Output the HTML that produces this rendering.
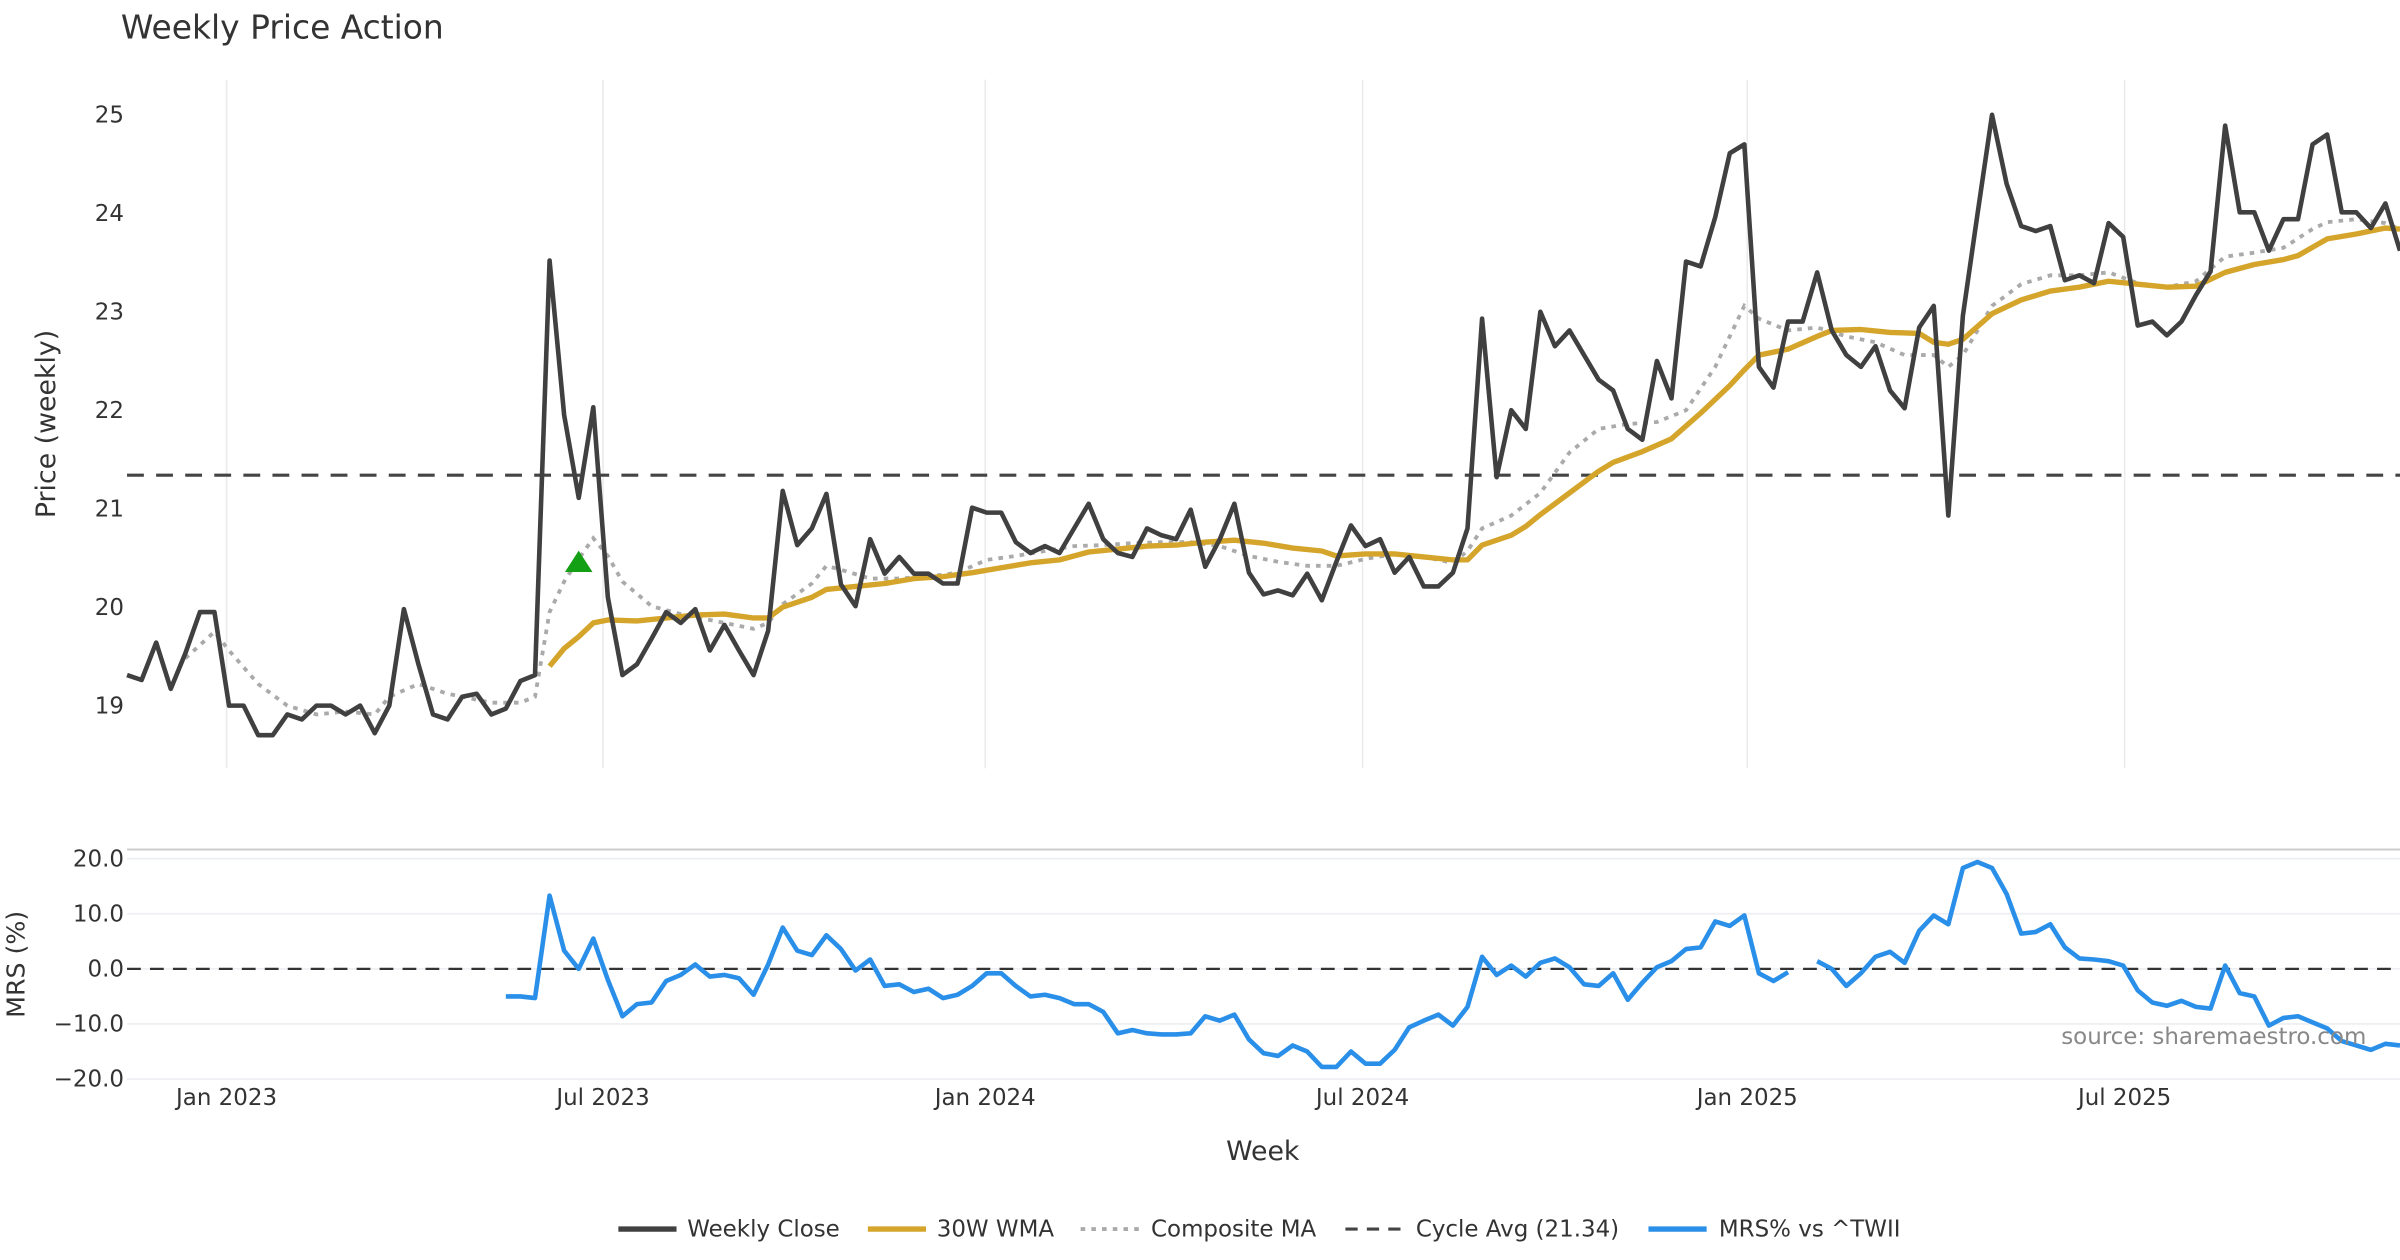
<!DOCTYPE html>
<html><head><meta charset="utf-8"><style>
html,body{margin:0;padding:0;background:#fff;}
svg{display:block;font-family:"DejaVu Sans","Liberation Sans",sans-serif;}
</style></head><body>
<svg id="chart" width="2400" height="1260" viewBox="0 0 1568 823.2" xmlns="http://www.w3.org/2000/svg">
<text x="79" y="25" font-size="21.5" fill="#333">Weekly Price Action</text>
<g id="grid"></g><g id="series"></g><g id="axes"></g>
<text transform="translate(36,277) rotate(-90)" text-anchor="middle" font-size="17.5" fill="#333">Price (weekly)</text>
<text transform="translate(16,630) rotate(-90)" text-anchor="middle" font-size="16.5" fill="#333">MRS (%)</text>
<text x="825" y="758" text-anchor="middle" font-size="17.5" fill="#333">Week</text>
<text x="1546" y="682" text-anchor="end" font-size="15" fill="#888">source: sharemaestro.com</text>
<g font-size="15" fill="#333">
<line x1="404" y1="803" x2="442" y2="803" stroke="#404040" stroke-width="3.5"/><text x="449" y="808">Weekly Close</text>
<line x1="567" y1="803" x2="605" y2="803" stroke="#d4a52a" stroke-width="3.5"/><text x="612" y="808">30W WMA</text>
<line x1="706" y1="803" x2="744" y2="803" stroke="#aaa" stroke-width="2.5" stroke-dasharray="3,4"/><text x="752" y="808">Composite MA</text>
<line x1="879" y1="803" x2="917" y2="803" stroke="#444" stroke-width="2" stroke-dasharray="8,6"/><text x="925" y="808">Cycle Avg (21.34)</text>
<line x1="1077" y1="803" x2="1115" y2="803" stroke="#2a8fe8" stroke-width="3.5"/><text x="1123" y="808">MRS% vs ^TWII</text>
</g>
</svg>
<script>
const closeVals=[19.31,19.26,19.64,19.17,19.53,19.95,19.95,19.0,19.0,18.70,18.70,18.91,18.86,19.0,19.0,18.91,19.0,18.72,19.0,19.98,19.42,18.91,18.86,19.09,19.12,18.91,18.97,19.25,19.31,23.52,21.95,21.11,22.03,20.10,19.31,19.42,19.68,19.95,19.84,19.98,19.56,19.82,19.56,19.31,19.76,21.18,20.63,20.80,21.15,20.23,20.01,20.69,20.34,20.51,20.34,20.34,20.24,20.24,21.01,20.96,20.96,20.66,20.55,20.62,20.55,20.80,21.05,20.69,20.55,20.51,20.80,20.73,20.69,20.99,20.41,20.69,21.05,20.35,20.13,20.17,20.12,20.34,20.07,20.46,20.83,20.62,20.69,20.35,20.51,20.21,20.21,20.35,20.80,22.93,21.32,22.00,21.81,23.00,22.65,22.81,22.56,22.31,22.20,21.81,21.70,22.50,22.12,23.51,23.46,23.96,24.61,24.70,22.44,22.23,22.90,22.90,23.40,22.81,22.56,22.44,22.65,22.20,22.02,22.84,23.06,20.93,22.96,23.99,25.00,24.30,23.87,23.82,23.87,23.32,23.37,23.29,23.90,23.76,22.86,22.90,22.76,22.90,23.17,23.41,24.89,24.01,24.01,23.62,23.94,23.94,24.70,24.80,24.01,24.01,23.85,24.10,23.62];
const wmaIdx=[29,30,31,32,33,35,37,39,41,43,44,45,47,48,50,52,54,56,58,60,62,64,66,68,70,72,74,76,78,80,82,83,85,87,89,91,92,93,95,96,97,99,101,102,104,106,108,110,111,112,114,116,117,119,121,123,124,125,126,128,130,132,134,136,138,140,142,144,146,148,149,151,153,155,156];
const wmaVals=[19.40,19.58,19.70,19.84,19.87,19.86,19.89,19.92,19.93,19.89,19.89,20.00,20.10,20.18,20.21,20.24,20.29,20.31,20.35,20.40,20.45,20.48,20.56,20.59,20.62,20.63,20.66,20.68,20.65,20.60,20.57,20.52,20.54,20.54,20.51,20.48,20.48,20.63,20.73,20.82,20.94,21.16,21.38,21.47,21.58,21.71,21.97,22.25,22.41,22.56,22.62,22.75,22.81,22.82,22.79,22.78,22.69,22.67,22.72,22.98,23.12,23.21,23.25,23.31,23.28,23.25,23.26,23.40,23.48,23.53,23.57,23.74,23.79,23.85,23.84];
const compIdx=[4,6,7,9,11,13,15,17,18,20,22,25,27,28,29,30,31,32,33,34,36,38,40,42,43,44,45,47,48,49,51,53,55,57,59,61,63,65,67,69,71,73,75,77,79,81,83,85,87,89,91,92,93,95,97,99,101,103,105,107,109,111,112,114,116,118,120,122,124,125,126,128,130,132,134,136,138,140,142,144,146,148,150,151,153,155,156];
const compVals=[19.48,19.75,19.56,19.22,19.0,18.91,18.94,18.91,19.09,19.22,19.12,19.03,19.03,19.09,19.95,20.26,20.49,20.70,20.52,20.26,20.01,19.93,19.87,19.81,19.78,19.84,20.03,20.24,20.42,20.38,20.29,20.29,20.31,20.35,20.48,20.52,20.57,20.62,20.63,20.65,20.66,20.66,20.62,20.52,20.46,20.42,20.42,20.49,20.54,20.51,20.45,20.57,20.80,20.93,21.16,21.57,21.81,21.86,21.88,22.00,22.44,23.06,22.93,22.81,22.84,22.75,22.69,22.56,22.56,22.44,22.56,23.06,23.28,23.37,23.37,23.40,23.29,23.25,23.31,23.56,23.60,23.65,23.84,23.91,23.94,23.90,23.84];
const mrsStart=26;
const mrsVals=[-5,-5,-5.3,13.3,3.3,0,5.5,-2,-8.6,-6.4,-6.1,-2.2,-1.1,0.8,-1.4,-1.1,-1.7,-4.7,0.8,7.5,3.3,2.5,6.1,3.6,-0.3,1.7,-3.1,-2.8,-4.2,-3.6,-5.3,-4.7,-3.1,-0.8,-0.8,-3.1,-5,-4.7,-5.3,-6.4,-6.4,-7.8,-11.7,-11.1,-11.7,-11.9,-11.9,-11.7,-8.6,-9.4,-8.3,-12.8,-15.3,-15.8,-13.9,-15,-17.8,-17.8,-15,-17.2,-17.2,-14.7,-10.6,-9.4,-8.3,-10.3,-6.9,2.2,-1.1,0.6,-1.4,1.1,1.9,0.3,-2.8,-3.1,-0.8,-5.6,-2.5,0.3,1.4,3.6,3.9,8.6,7.8,9.7,-0.8,-2.2,-0.6,null,1.4,0,-3.1,-0.8,2.2,3.1,1.1,6.9,9.7,8.1,18.3,19.4,18.3,13.6,6.4,6.7,8.1,3.9,1.9,1.7,1.4,0.6,-3.9,-6.1,-6.7,-5.8,-6.9,-7.2,0.6,-4.4,-5,-10.3,-8.9,-8.6,-9.7,-10.8,-13.1,-13.9,-14.7,-13.6,-13.9];
const priceTicks=[19,20,21,22,23,24,25];
const mrsTicks=[20,10,0,-10,-20];
const xTickLabels=["Jan 2023","Jul 2023","Jan 2024","Jul 2024","Jan 2025","Jul 2025"];
const xTickIdx=[6.83,32.67,58.9,84.8,111.2,137.1];
const cycleAvg=21.34;
const signalIdx=31, signalVal=20.45;

const NS="http://www.w3.org/2000/svg";
const N=closeVals.length;
const X=i=>83+i*(1568-83)/(N-1);
const Y=v=>461-(v-19)*64.33;
const YM=v=>633-v*3.6;
function mk(tag,attrs,parent){const e=document.createElementNS(NS,tag);for(const k in attrs)e.setAttribute(k,attrs[k]);parent.appendChild(e);return e;}
const grid=document.getElementById('grid'),ser=document.getElementById('series'),ax=document.getElementById('axes');
xTickIdx.forEach((t,k)=>{
  const l=mk('line',{x1:X(t),x2:X(t),y1:52,y2:502,stroke:'#ebebeb','stroke-width':1},grid);
  
  
  const tx=mk('text',{x:X(t),y:722,'text-anchor':'middle','font-size':15,fill:'#333'},ax);
  tx.textContent=xTickLabels[k];
  
  
});
priceTicks.forEach(v=>{
  const tx=mk('text',{x:81,y:Y(v)+5,'text-anchor':'end','font-size':15,fill:'#333'},ax);
  tx.textContent=v;
  
  
});
const border=mk('line',{x1:83,x2:1568,y1:555,y2:555,stroke:'#ccc','stroke-width':1.3},grid);


mrsTicks.forEach(v=>{
  const g=mk('line',{x1:83,x2:1568,y1:YM(v),y2:YM(v),stroke:'#eef0f3','stroke-width':1.2},grid);
  
  
  const tx=mk('text',{x:81,y:YM(v)+5,'text-anchor':'end','font-size':15,fill:'#333'},ax);
  tx.textContent=(v<0?'\u2212'+Math.abs(v).toFixed(1):v.toFixed(1));
  
  
});
function path(idx,vals,yf){let d='',pen=false;vals.forEach((v,k)=>{if(v===null){pen=false;return;}d+=(pen?'L':'M')+X(idx(k)).toFixed(2)+','+yf(v).toFixed(2);pen=true;});return d;}
const cyc=mk('line',{x1:83,x2:1568,y1:Y(cycleAvg),y2:Y(cycleAvg),stroke:'#444','stroke-width':2,'stroke-dasharray':'11,8'},ser);


const zero=mk('line',{x1:83,x2:1568,y1:YM(0),y2:YM(0),stroke:'#333','stroke-width':1.5,'stroke-dasharray':'9,6'},ser);


const comp=mk('path',{d:path(k=>compIdx[k],compVals,Y),fill:'none',stroke:'#aaa','stroke-width':2.5,'stroke-dasharray':'3,4'},ser);


const wma=mk('path',{d:path(k=>wmaIdx[k],wmaVals,Y),fill:'none',stroke:'#d4a52a','stroke-width':3.5,'stroke-linejoin':'round'},ser);


const cl=mk('path',{d:path(k=>k,closeVals,Y),fill:'none',stroke:'#404040','stroke-width':3,'stroke-linejoin':'round'},ser);


const mrs=mk('path',{d:path(k=>mrsStart+k,mrsVals,YM),fill:'none',stroke:'#2a8fe8','stroke-width':3,'stroke-linejoin':'round'},ser);


const sx=X(signalIdx),sy=Y(signalVal);
const tri=mk('polygon',{points:`${sx-9},${sy+6} ${sx+9},${sy+6} ${sx},${sy-8}`,fill:'#14a014'},ser);


</script>
</body></html>
